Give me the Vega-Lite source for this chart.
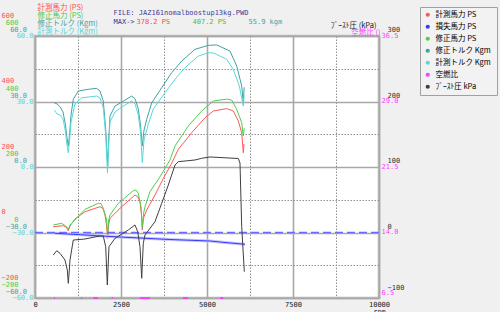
{
  "$schema": "https://vega.github.io/schema/vega-lite/v6.json",
  "width": 344,
  "height": 262,
  "autosize": {"type": "none"},
  "padding": {"left": 35, "top": 36, "right": 121, "bottom": 14},
  "background": "#f0f0f0",
  "config": {
    "view": {"fill": "#ffffff", "stroke": "#b8b8b8", "strokeWidth": 2.5},
    "axis": {"domain": false, "ticks": false, "tickSize": 0, "grid": false, "titleFontWeight": "normal", "labelFont": "DejaVu Sans Mono", "labelFontSize": 7, "titleFont": "Noto Sans CJK JP", "titleFontSize": 7.5, "labelOverlap": false, "labelFlush": false, "titlePadding": 0}
  },
  "datasets": {
    "measuredPower": [
      {"rpm": 532, "ps": 17.7}, {"rpm": 823, "ps": 20.8}, {"rpm": 916, "ps": 15.3}, {"rpm": 968, "ps": 5.5}, {"rpm": 1017, "ps": 19.8}, {"rpm": 1163, "ps": 41.2}, {"rpm": 1454, "ps": 63.5}, {"rpm": 1890, "ps": 78.8}, {"rpm": 1977, "ps": 73.3}, {"rpm": 2035, "ps": 53.4}, {"rpm": 2078, "ps": 22.9}, {"rpm": 2113, "ps": -17.7}, {"rpm": 2137, "ps": 22.9}, {"rpm": 2180, "ps": 43.4}, {"rpm": 2520, "ps": 78.8}, {"rpm": 2907, "ps": 114.5}, {"rpm": 2994, "ps": 108.4}, {"rpm": 3052, "ps": 94}, {"rpm": 3096, "ps": 53.4}, {"rpm": 3119, "ps": 7.6}, {"rpm": 3154, "ps": 44.3}, {"rpm": 3247, "ps": 68.7}, {"rpm": 3488, "ps": 114.5}, {"rpm": 3730, "ps": 165}, {"rpm": 3974, "ps": 211.3}, {"rpm": 4166, "ps": 254}, {"rpm": 4555, "ps": 304.7}, {"rpm": 4942, "ps": 350.5}, {"rpm": 5183, "ps": 371}, {"rpm": 5573, "ps": 378.2}, {"rpm": 5765, "ps": 371}, {"rpm": 5910, "ps": 340.4}, {"rpm": 6009, "ps": 304.7}, {"rpm": 6055, "ps": 243.6}, {"rpm": 6075, "ps": 270}
    ],
    "correctedPower": [
      {"rpm": 532, "ps": 22.9}, {"rpm": 776, "ps": 28.1}, {"rpm": 922, "ps": 17.7}, {"rpm": 968, "ps": 7.6}, {"rpm": 1017, "ps": 22.9}, {"rpm": 1067, "ps": 28.1}, {"rpm": 1454, "ps": 70.8}, {"rpm": 1840, "ps": 89.1}, {"rpm": 1919, "ps": 88.5}, {"rpm": 1985, "ps": 73.9}, {"rpm": 2084, "ps": 38.2}, {"rpm": 2113, "ps": -12.8}, {"rpm": 2142, "ps": 38.2}, {"rpm": 2180, "ps": 53.4}, {"rpm": 2422, "ps": 89.1}, {"rpm": 2858, "ps": 127.6}, {"rpm": 2936, "ps": 129.8}, {"rpm": 3003, "ps": 119.7}, {"rpm": 3081, "ps": 78.8}, {"rpm": 3119, "ps": 17.7}, {"rpm": 3163, "ps": 62.6}, {"rpm": 3198, "ps": 78.8}, {"rpm": 3343, "ps": 124.6}, {"rpm": 3634, "ps": 170.4}, {"rpm": 3924, "ps": 221.3}, {"rpm": 4070, "ps": 264.1}, {"rpm": 4456, "ps": 325.1}, {"rpm": 4846, "ps": 370.9}, {"rpm": 5183, "ps": 401.5}, {"rpm": 5573, "ps": 407.2}, {"rpm": 5718, "ps": 404.5}, {"rpm": 5863, "ps": 376.1}, {"rpm": 6009, "ps": 335.2}, {"rpm": 6055, "ps": 294.6}, {"rpm": 6085, "ps": 318}
    ],
    "correctedTorque": [
      {"rpm": 561, "kgm": 29.4}, {"rpm": 640, "kgm": 28.9}, {"rpm": 727, "kgm": 27.6}, {"rpm": 814, "kgm": 25.2}, {"rpm": 887, "kgm": 19.2}, {"rpm": 930, "kgm": 13.3}, {"rpm": 968, "kgm": 9.6}, {"rpm": 1003, "kgm": 14.7}, {"rpm": 1047, "kgm": 23.8}, {"rpm": 1113, "kgm": 31.0}, {"rpm": 1259, "kgm": 34.8}, {"rpm": 1549, "kgm": 35.6}, {"rpm": 1794, "kgm": 36.0}, {"rpm": 1890, "kgm": 34.8}, {"rpm": 1985, "kgm": 30.2}, {"rpm": 2055, "kgm": 17.4}, {"rpm": 2113, "kgm": 0.5}, {"rpm": 2142, "kgm": 12.4}, {"rpm": 2180, "kgm": 23.4}, {"rpm": 2326, "kgm": 27.9}, {"rpm": 2567, "kgm": 30.2}, {"rpm": 2811, "kgm": 32.5}, {"rpm": 2907, "kgm": 31.3}, {"rpm": 3003, "kgm": 26.6}, {"rpm": 3067, "kgm": 19.2}, {"rpm": 3119, "kgm": 9.6}, {"rpm": 3169, "kgm": 16.9}, {"rpm": 3247, "kgm": 21.8}, {"rpm": 3393, "kgm": 29.4}, {"rpm": 3683, "kgm": 36.3}, {"rpm": 3974, "kgm": 43.2}, {"rpm": 4265, "kgm": 48.5}, {"rpm": 4651, "kgm": 53.9}, {"rpm": 5038, "kgm": 55.7}, {"rpm": 5282, "kgm": 55.9}, {"rpm": 5669, "kgm": 53.1}, {"rpm": 5863, "kgm": 46.3}, {"rpm": 6009, "kgm": 37.1}, {"rpm": 6055, "kgm": 29.5}, {"rpm": 6080, "kgm": 36.5}
    ],
    "measuredTorque": [
      {"rpm": 561, "kgm": 26.1}, {"rpm": 640, "kgm": 24.3}, {"rpm": 727, "kgm": 23.8}, {"rpm": 814, "kgm": 22.0}, {"rpm": 887, "kgm": 16.0}, {"rpm": 930, "kgm": 10.1}, {"rpm": 968, "kgm": 6.5}, {"rpm": 1003, "kgm": 11.5}, {"rpm": 1047, "kgm": 20.6}, {"rpm": 1163, "kgm": 28.9}, {"rpm": 1358, "kgm": 31.7}, {"rpm": 1794, "kgm": 32.5}, {"rpm": 1890, "kgm": 31.6}, {"rpm": 1985, "kgm": 27.0}, {"rpm": 2055, "kgm": 14.7}, {"rpm": 2107, "kgm": -2.7}, {"rpm": 2142, "kgm": 10.1}, {"rpm": 2180, "kgm": 20.6}, {"rpm": 2326, "kgm": 25.2}, {"rpm": 2567, "kgm": 27.9}, {"rpm": 2811, "kgm": 30.2}, {"rpm": 2907, "kgm": 28.9}, {"rpm": 3003, "kgm": 23.8}, {"rpm": 3067, "kgm": 16.0}, {"rpm": 3119, "kgm": 2.0}, {"rpm": 3169, "kgm": 12.4}, {"rpm": 3294, "kgm": 19.6}, {"rpm": 3439, "kgm": 26.6}, {"rpm": 3779, "kgm": 34.0}, {"rpm": 4070, "kgm": 40.2}, {"rpm": 4361, "kgm": 45.5}, {"rpm": 4747, "kgm": 50.8}, {"rpm": 5038, "kgm": 52.3}, {"rpm": 5183, "kgm": 52.3}, {"rpm": 5573, "kgm": 49.3}, {"rpm": 5765, "kgm": 44.7}, {"rpm": 5939, "kgm": 37.1}, {"rpm": 6055, "kgm": 27.9}, {"rpm": 6080, "kgm": 33}
    ],
    "lossPower": [
      {"rpm": 581, "ps": -2.4}, {"rpm": 1454, "ps": -7.6}, {"rpm": 2180, "ps": -12.2}, {"rpm": 3052, "ps": -16.8}, {"rpm": 3924, "ps": -21.4}, {"rpm": 5088, "ps": -26.0}, {"rpm": 5523, "ps": -30.5}, {"rpm": 6105, "ps": -36.0}
    ],
    "zeroLine": [
      {"ps": 0}
    ],
    "boost": [
      {"rpm": 532, "kpa": -34.4}, {"rpm": 631, "kpa": -27.8}, {"rpm": 727, "kpa": -31.8}, {"rpm": 872, "kpa": -42.0}, {"rpm": 939, "kpa": -57.3}, {"rpm": 968, "kpa": -77.6}, {"rpm": 997, "kpa": -57.3}, {"rpm": 1017, "kpa": -42.0}, {"rpm": 1113, "kpa": -11.5}, {"rpm": 1454, "kpa": -9.9}, {"rpm": 1890, "kpa": -5.3}, {"rpm": 1985, "kpa": -5.3}, {"rpm": 2055, "kpa": -21.7}, {"rpm": 2102, "kpa": -80.2}, {"rpm": 2151, "kpa": -21.7}, {"rpm": 2326, "kpa": -8.9}, {"rpm": 2712, "kpa": 3.8}, {"rpm": 2907, "kpa": 11.5}, {"rpm": 2985, "kpa": 1.2}, {"rpm": 3052, "kpa": -21.7}, {"rpm": 3102, "kpa": -69.9}, {"rpm": 3148, "kpa": -16.5}, {"rpm": 3198, "kpa": -3.8}, {"rpm": 3488, "kpa": 16.5}, {"rpm": 3683, "kpa": 44.6}, {"rpm": 3875, "kpa": 72.5}, {"rpm": 4070, "kpa": 103.1}, {"rpm": 4166, "kpa": 108.1}, {"rpm": 4651, "kpa": 110.7}, {"rpm": 4846, "kpa": 113.3}, {"rpm": 5088, "kpa": 115.3}, {"rpm": 5910, "kpa": 113.0}, {"rpm": 5959, "kpa": 106.1}, {"rpm": 6009, "kpa": 8.9}, {"rpm": 6085, "kpa": -59.9}
    ],
    "afr": [
      {"rpm": 552, "rpm_end": 580, "afr": 6.5}, {"rpm": 1340, "rpm_end": 1370, "afr": 6.5}, {"rpm": 1690, "rpm_end": 1830, "afr": 6.5}, {"rpm": 2230, "rpm_end": 2270, "afr": 6.5}, {"rpm": 3050, "rpm_end": 3340, "afr": 6.5}, {"rpm": 4300, "rpm_end": 4450, "afr": 6.5}, {"rpm": 5380, "rpm_end": 5470, "afr": 6.5}
    ]
  },
  "layer": [
    {
      "data": {"name": "measuredPower"},
      "mark": {"type": "line", "strokeWidth": 1},
      "encoding": {
        "x": {"field": "rpm", "type": "quantitative", "scale": {"domain": [0, 10000], "nice": false, "zero": false},
          "axis": {"orient": "bottom", "values": [0, 1250, 2500, 3750, 5000, 6250, 7500, 8750, 10000], "format": "d", "labelExpr": "datum.value % 2500 === 0 ? datum.label : ''", "labelColor": "#202020", "labelPadding": 2, "grid": true,
            "gridColor": {"condition": {"test": "datum.value % 2500 === 0", "value": "#a8a8a8"}, "value": "#909090"},
            "gridDash": {"condition": {"test": "datum.value % 2500 === 0", "value": []}, "value": [1.5, 1.5]},
            "gridWidth": {"condition": {"test": "datum.value % 2500 === 0", "value": 1.6}, "value": 1},
            "title": "rpm", "titleX": 344, "titleY": 9, "titleAngle": 0, "titleAlign": "center", "titleBaseline": "top", "titleFont": "DejaVu Sans Mono", "titleFontSize": 7, "titleColor": "#202020"}},
        "y": {"field": "ps", "type": "quantitative", "scale": {"domain": [-200, 600], "nice": false, "zero": false},
          "axis": {"orient": "left", "values": [-200, 0, 200, 400, 600], "format": "d", "labelColor": "#ff5050", "labelAlign": "left", "labelPadding": 34, "labelOffset": -21, "title": "計測馬力 (PS)", "titleColor": "#ff5050", "titleX": 2, "titleY": -28.5, "titleAngle": 0, "titleAlign": "left", "titleBaseline": "middle"}},
        "color": {"datum": "計測馬力", "type": "nominal",
          "scale": {"domain": ["計測馬力", "損失馬力", "修正馬力", "修正トルク", "計測トルク", "空燃比", "ﾌﾞｰｽﾄ圧"], "range": ["#ff5a5a", "#3a3aff", "#4cd04c", "#3fa3a3", "#5ad8d8", "#ff40ff", "#404040"]},
          "legend": {"orient": "none", "legendX": 385, "legendY": -29, "title": null, "symbolType": "circle", "symbolSize": 18, "symbolStrokeWidth": 0, "labelFont": "Noto Sans CJK JP", "labelFontSize": 7.5, "labelColor": "#000000", "rowPadding": 3, "padding": 4, "labelOffset": 4, "strokeColor": "#a0a0a0", "fillColor": "#f2f2f2",
            "labelExpr": "{'計測馬力':'計測馬力  PS','損失馬力':'損失馬力  PS','修正馬力':'修正馬力  PS','修正トルク':'修正トルク  Kgm','計測トルク':'計測トルク  Kgm','空燃比':'空燃比','ﾌﾞｰｽﾄ圧':'ﾌﾞｰｽﾄ圧  kPa'}[datum.label]",
            "encode": {"symbols": {"update": {"fill": {"scale": "color", "field": "value"}, "opacity": {"value": 1}}}}}}
      }
    },
    {
      "data": {"name": "correctedPower"},
      "mark": {"type": "line", "strokeWidth": 1},
      "encoding": {
        "x": {"field": "rpm", "type": "quantitative",
          "axis": {"orient": "top", "labels": false, "grid": false, "title": "407.2 PS", "titleColor": "#40c040", "titleFont": "DejaVu Sans Mono", "titleFontSize": 7, "titleX": 157, "titleY": -14.5, "titleAngle": 0, "titleAlign": "left", "titleBaseline": "middle"}},
        "y": {"field": "ps", "type": "quantitative", "scale": {"domain": [-200, 600], "nice": false, "zero": false},
          "axis": {"orient": "left", "values": [-200, 0, 200, 400, 600], "format": "d", "labelColor": "#50c850", "labelAlign": "right", "labelPadding": 17, "labelOffset": -13.5, "title": "修正馬力 (PS)", "titleColor": "#50c850", "titleX": 2, "titleY": -20.5, "titleAngle": 0, "titleAlign": "left", "titleBaseline": "middle"}},
        "color": {"datum": "修正馬力", "type": "nominal"}
      }
    },
    {
      "data": {"name": "correctedTorque"},
      "mark": {"type": "line", "strokeWidth": 1},
      "encoding": {
        "x": {"field": "rpm", "type": "quantitative",
          "axis": {"orient": "top", "labels": false, "grid": false, "title": "55.9 kgm", "titleColor": "#40a0a0", "titleFont": "DejaVu Sans Mono", "titleFontSize": 7, "titleX": 213, "titleY": -14.5, "titleAngle": 0, "titleAlign": "left", "titleBaseline": "middle"}},
        "y": {"field": "kgm", "type": "quantitative", "scale": {"domain": [-60, 60], "nice": false, "zero": false},
          "axis": {"orient": "left", "values": [-60, -45, -30, -15, 0, 15, 30, 45, 60], "format": ".1f", "labelExpr": "datum.value % 30 === 0 ? datum.label : ''", "labelColor": "#48a0a0", "labelAlign": "right", "labelPadding": 8.5, "labelOffset": -6.5, "grid": true,
            "gridColor": {"condition": {"test": "datum.value % 30 === 0", "value": "#a8a8a8"}, "value": "#909090"},
            "gridDash": {"condition": {"test": "datum.value % 30 === 0", "value": []}, "value": [1.5, 1.5]},
            "gridWidth": {"condition": {"test": "datum.value % 30 === 0", "value": 1.6}, "value": 1},
            "title": "修正トルク (Kgm)", "titleColor": "#48a0a0", "titleX": 2, "titleY": -12.5, "titleAngle": 0, "titleAlign": "left", "titleBaseline": "middle"}},
        "color": {"datum": "修正トルク", "type": "nominal"}
      }
    },
    {
      "data": {"name": "measuredTorque"},
      "mark": {"type": "line", "strokeWidth": 1},
      "encoding": {
        "x": {"field": "rpm", "type": "quantitative",
          "axis": {"orient": "top", "labels": false, "grid": false, "title": "FILE: JAZ161nomalboostup13kg.PWD", "titleColor": "#3c3c9c", "titleFont": "DejaVu Sans Mono", "titleFontSize": 7, "titleX": 78, "titleY": -24, "titleAngle": 0, "titleAlign": "left", "titleBaseline": "middle"}},
        "y": {"field": "kgm", "type": "quantitative", "scale": {"domain": [-60, 60], "nice": false, "zero": false},
          "axis": {"orient": "left", "values": [-60, -30, 0, 30, 60], "format": ".1f", "labelColor": "#55d5d5", "labelAlign": "right", "labelPadding": 2, "labelOffset": -0.5, "title": "計測トルク (Kgm)", "titleColor": "#55d5d5", "titleX": 2, "titleY": -5, "titleAngle": 0, "titleAlign": "left", "titleBaseline": "middle"}},
        "color": {"datum": "計測トルク", "type": "nominal"}
      }
    },
    {
      "data": {"name": "lossPower"},
      "mark": {"type": "line", "strokeWidth": 3, "color": "#c4c4ff"},
      "encoding": {
        "x": {"field": "rpm", "type": "quantitative", "axis": null},
        "y": {"field": "ps", "type": "quantitative", "scale": {"domain": [-200, 600], "nice": false, "zero": false}, "axis": null}
      }
    },
    {
      "data": {"name": "zeroLine"},
      "mark": {"type": "rule", "strokeDash": [8, 4], "strokeWidth": 1.3, "color": "#6a6aff"},
      "encoding": {
        "y": {"field": "ps", "type": "quantitative", "scale": {"domain": [-200, 600], "nice": false, "zero": false}, "axis": null}
      }
    },
    {
      "data": {"name": "lossPower"},
      "mark": {"type": "line", "strokeWidth": 1},
      "encoding": {
        "x": {"field": "rpm", "type": "quantitative",
          "axis": {"orient": "top", "labels": false, "grid": false, "title": "MAX->", "titleColor": "#3030a0", "titleFont": "DejaVu Sans Mono", "titleFontSize": 7, "titleX": 78, "titleY": -14.5, "titleAngle": 0, "titleAlign": "left", "titleBaseline": "middle"}},
        "y": {"field": "ps", "type": "quantitative", "scale": {"domain": [-200, 600], "nice": false, "zero": false}, "axis": null},
        "color": {"datum": "損失馬力", "type": "nominal"}
      }
    },
    {
      "data": {"name": "boost"},
      "mark": {"type": "line", "strokeWidth": 1},
      "encoding": {
        "x": {"field": "rpm", "type": "quantitative",
          "axis": {"orient": "top", "labels": false, "grid": false, "title": "378.2 PS", "titleColor": "#ff4848", "titleFont": "DejaVu Sans Mono", "titleFontSize": 7, "titleX": 101, "titleY": -14.5, "titleAngle": 0, "titleAlign": "left", "titleBaseline": "middle"}},
        "y": {"field": "kpa", "type": "quantitative", "scale": {"domain": [-100, 300], "nice": false, "zero": false},
          "axis": {"orient": "right", "values": [-100, 0, 100, 200, 300], "format": "d", "labelColor": "#303030", "labelAlign": "left", "labelPadding": 8,
            "labelOffset": {"condition": {"test": "datum.value === -100", "value": -11}, "value": -6.5},
            "title": "ﾌﾞｰｽﾄ圧 (kPa)", "titleColor": "#202020", "titleX": -3, "titleY": -11, "titleAngle": 0, "titleAlign": "right", "titleBaseline": "middle"}},
        "color": {"datum": "ﾌﾞｰｽﾄ圧", "type": "nominal"}
      }
    },
    {
      "data": {"name": "afr"},
      "mark": {"type": "rule", "strokeWidth": 2},
      "encoding": {
        "x": {"field": "rpm", "type": "quantitative", "axis": null},
        "x2": {"field": "rpm_end"},
        "y": {"field": "afr", "type": "quantitative", "scale": {"domain": [6.5, 36.5], "nice": false, "zero": false},
          "axis": {"orient": "right", "values": [6.5, 14, 21.5, 29, 36.5], "format": ".1f", "labelColor": "#ff40ff", "labelAlign": "left", "labelPadding": 2,
            "labelOffset": {"condition": {"test": "datum.value === 6.5", "value": -5.5}, "value": -1},
            "title": "空燃比 ()", "titleColor": "#ff40ff", "titleX": 1, "titleY": -3.5, "titleAngle": 0, "titleAlign": "right", "titleBaseline": "middle"}},
        "color": {"datum": "空燃比", "type": "nominal"}
      }
    }
  ],
  "resolve": {"scale": {"y": "independent"}, "axis": {"x": "independent", "y": "independent"}}
}
